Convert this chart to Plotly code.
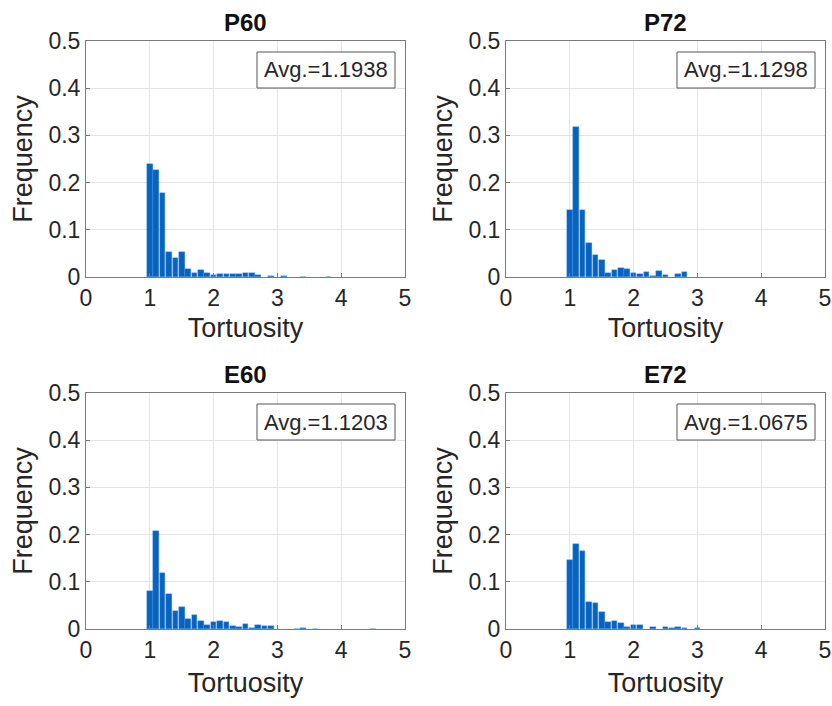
import plotly.graph_objects as go

# ---------------- data ----------------
titles = ["P60", "P72", "E60", "E72"]
averages = ["Avg.=1.1938", "Avg.=1.1298", "Avg.=1.1203", "Avg.=1.0675"]

p60_x = [1.0, 1.1, 1.2, 1.3, 1.4, 1.5, 1.6, 1.7, 1.8, 1.9, 2.0, 2.1, 2.2, 2.3, 2.4, 2.5, 2.6, 2.7,
         2.9, 3.1, 3.4, 3.8]
p60_y = [0.239, 0.227, 0.179, 0.054, 0.041, 0.054, 0.017, 0.009, 0.015, 0.009, 0.005, 0.006, 0.006,
         0.006, 0.007, 0.008, 0.008, 0.004, 0.003, 0.002, 0.001, 0.001]

p72_x = [1.0, 1.1, 1.2, 1.3, 1.4, 1.5, 1.6, 1.7, 1.8, 1.9, 2.0, 2.1, 2.2, 2.3, 2.4, 2.5, 2.7, 2.8]
p72_y = [0.143, 0.318, 0.143, 0.071, 0.047, 0.037, 0.008, 0.015, 0.020, 0.016, 0.008, 0.006, 0.010,
         0.003, 0.012, 0.004, 0.006, 0.010]

e60_x = [1.0, 1.1, 1.2, 1.3, 1.4, 1.5, 1.6, 1.7, 1.8, 1.9, 2.0, 2.1, 2.2, 2.3, 2.4, 2.5, 2.6, 2.7,
         2.8, 2.9, 3.3, 3.4, 3.6, 4.5]
e60_y = [0.080, 0.207, 0.119, 0.074, 0.039, 0.047, 0.021, 0.029, 0.018, 0.009, 0.015, 0.016, 0.014,
         0.007, 0.005, 0.011, 0.003, 0.009, 0.007, 0.006, 0.001, 0.003, 0.001, 0.001]

e72_x = [1.0, 1.1, 1.2, 1.3, 1.4, 1.5, 1.6, 1.7, 1.8, 1.9, 2.0, 2.1, 2.3, 2.5, 2.6, 2.7, 2.8, 3.0]
e72_y = [0.146, 0.181, 0.166, 0.057, 0.055, 0.035, 0.014, 0.017, 0.013, 0.005, 0.009, 0.009,
         0.004, 0.005, 0.002, 0.004, 0.002, 0.003]

series = [(p60_x, p60_y), (p72_x, p72_y), (e60_x, e60_y), (e72_x, e72_y)]

x_ticks = [0, 1, 2, 3, 4, 5]
y_ticks = [0, 0.1, 0.2, 0.3, 0.4, 0.5]
y_tick_text = ["0", "0.1", "0.2", "0.3", "0.4", "0.5"]

# ---------------- layout geometry (pixels) ----------------
W, H = 832, 706
cols = [(86, 405), (506, 825)]
rows = [(41, 277), (393, 629)]

FONT = "Liberation Sans, Arial, sans-serif"
BAR = "#0862BF"
TXT = "#262626"
FRAME = "#7a7a7a"

fig = go.Figure()

for i, (xs, ys) in enumerate(series):
    r, c = divmod(i, 2)
    n = "" if i == 0 else str(i + 1)
    fig.add_trace(go.Bar(
        x=xs, y=ys, width=0.088,
        marker=dict(color=BAR, line=dict(color="#3d8fe0", width=0.4)),
        xaxis="x" + n, yaxis="y" + n, showlegend=False,
    ))
    x0, x1 = cols[c]
    yt, yb = rows[r]
    xd = [x0 / W, x1 / W]
    yd = [1 - yb / H, 1 - yt / H]
    common = dict(showline=True, linecolor=FRAME, linewidth=1, mirror=True,
                  ticks="inside", ticklen=4, tickcolor=FRAME, automargin=False,
                  showgrid=True, gridcolor="#e4e4e4", gridwidth=1,
                  zeroline=False, tickfont=dict(size=23, color=TXT, family=FONT))
    fig.layout["xaxis" + n] = dict(
        domain=xd, range=[0, 5], tickvals=x_ticks, anchor="y" + n,
        title=dict(text="Tortuosity", font=dict(size=27, color=TXT, family=FONT),
                   standoff=8 + 3 * r),
        **common)
    fig.layout["yaxis" + n] = dict(
        domain=yd, range=[0, 0.5], tickvals=y_ticks, ticktext=y_tick_text, anchor="x" + n,
        title=dict(text="Frequency", font=dict(size=27, color=TXT, family=FONT), standoff=7),
        **common)
    # subplot title
    fig.add_annotation(xref="paper", yref="paper", x=(x0 + x1) / 2 / W, y=1 - (yt - 3) / H,
                       text="<b>" + titles[i] + "</b>", showarrow=False,
                       xanchor="center", yanchor="bottom",
                       font=dict(size=24, color="#111111", family=FONT))
    # average label box
    bx0, bx1 = x1 - 148, x1 - 10
    by0, by1 = yt + 11, yt + 47
    fig.add_shape(type="rect", xref="paper", yref="paper",
                  x0=bx0 / W, x1=bx1 / W, y0=1 - by1 / H, y1=1 - by0 / H,
                  line=dict(color="#555555", width=1), fillcolor="white")
    fig.add_annotation(xref="paper", yref="paper", x=(bx0 + bx1) / 2 / W,
                       y=1 - (by0 + by1) / 2 / H, text=averages[i], showarrow=False,
                       xanchor="center", yanchor="middle",
                       font=dict(size=22, color=TXT, family=FONT))

fig.update_layout(width=W, height=H, margin=dict(l=0, r=0, t=0, b=0),
                  paper_bgcolor="white", plot_bgcolor="white", bargap=0)

fig.write_html("out.html")
